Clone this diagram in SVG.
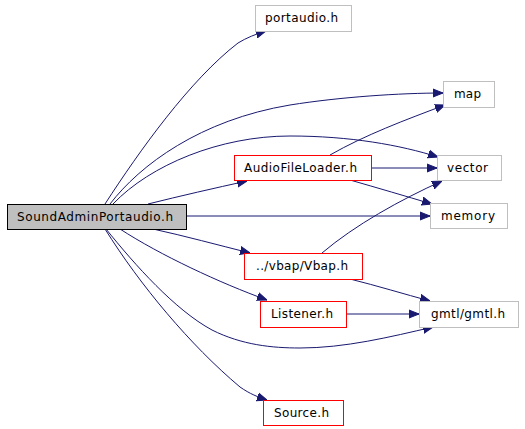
<svg xmlns="http://www.w3.org/2000/svg" width="525" height="429" viewBox="0 0 525 429">
<style>
.n rect{fill:#fff;stroke:#bfbfbf;stroke-width:1}
.n.r rect{stroke:#ff0000}
.n.m rect{fill:#bfbfbf;stroke:#000}
.n text{font-family:"DejaVu Sans",sans-serif;font-size:12px;fill:#000;text-anchor:middle}
.e path{fill:none;stroke:#191970;stroke-width:1}
</style>
<defs>
<marker id="a" viewBox="0 0 10 10" refX="10" refY="5" markerWidth="10" markerHeight="10" markerUnits="userSpaceOnUse" orient="auto">
<path d="M0,1 L10,5 L0,9 z" fill="#191970" stroke="#191970"/>
</marker>
</defs>
<g id="edges" class="e">
<path d="M105,204 C140,150 190,80 238,43 C246,38 256,34 266,31" marker-end="url(#a)"/>
<path d="M110,204 C140,165 200,120 290,105 C340,97 400,93 443,93" marker-end="url(#a)"/>
<path d="M113,204 C150,165 220,136 290,136 C350,136 400,145 438,157" marker-end="url(#a)"/>
<path d="M148,204 C180,196 215,188 247,181" marker-end="url(#a)"/>
<path d="M186,216 L430,216" marker-end="url(#a)"/>
<path d="M153,229 C185,236 218,245 250,253" marker-end="url(#a)"/>
<path d="M120,229 C160,255 220,283 267,300" marker-end="url(#a)"/>
<path d="M106,229 C135,265 175,310 212,330 C242,345 272,348 300,348 C345,348 390,337 433,327" marker-end="url(#a)"/>
<path d="M105,229 C140,285 190,345 240,387 C250,394 258,397 267,400" marker-end="url(#a)"/>
<path d="M330,155 C365,135 405,120 445,105" marker-end="url(#a)"/>
<path d="M371,168 L437,168" marker-end="url(#a)"/>
<path d="M350,180 C378,188 405,196 432,204" marker-end="url(#a)"/>
<path d="M322,253 C355,225 400,200 442,181" marker-end="url(#a)"/>
<path d="M350,279 C378,286 404,294 430,301" marker-end="url(#a)"/>
<path d="M346,314 L419,314" marker-end="url(#a)"/>
</g>
<g id="n_sound" class="n m"><rect x="7.5" y="204.5" width="179" height="25"/><text x="95" y="221" textLength="156" lengthAdjust="spacing">SoundAdminPortaudio.h</text></g>
<g id="n_portaudio" class="n"><rect x="255.5" y="5.5" width="96" height="26"/><text x="301.5" y="22" textLength="73" lengthAdjust="spacing">portaudio.h</text></g>
<g id="n_map" class="n"><rect x="443.5" y="81.5" width="51" height="26"/><text x="467.5" y="98" textLength="27" lengthAdjust="spacing">map</text></g>
<g id="n_vector" class="n"><rect x="437.5" y="155.5" width="64" height="25"/><text x="467.5" y="172" textLength="41" lengthAdjust="spacing">vector</text></g>
<g id="n_afl" class="n r"><rect x="234.5" y="155.5" width="137" height="25"/><text x="300.5" y="172" textLength="113" lengthAdjust="spacing">AudioFileLoader.h</text></g>
<g id="n_memory" class="n"><rect x="430.5" y="203.5" width="77" height="25"/><text x="468" y="220" textLength="54" lengthAdjust="spacing">memory</text></g>
<g id="n_vbap" class="n r"><rect x="244.5" y="253.5" width="118" height="26"/><text x="302" y="270" textLength="92" lengthAdjust="spacing">../vbap/Vbap.h</text></g>
<g id="n_listener" class="n r"><rect x="260.5" y="301.5" width="86" height="26"/><text x="302" y="318" textLength="62" lengthAdjust="spacing">Listener.h</text></g>
<g id="n_gmtl" class="n"><rect x="419.5" y="301.5" width="99" height="26"/><text x="468" y="318" textLength="74" lengthAdjust="spacing">gmtl/gmtl.h</text></g>
<g id="n_source" class="n r"><rect x="263.5" y="400.5" width="80" height="25"/><text x="301.5" y="417" textLength="55" lengthAdjust="spacing">Source.h</text></g>
</svg>
